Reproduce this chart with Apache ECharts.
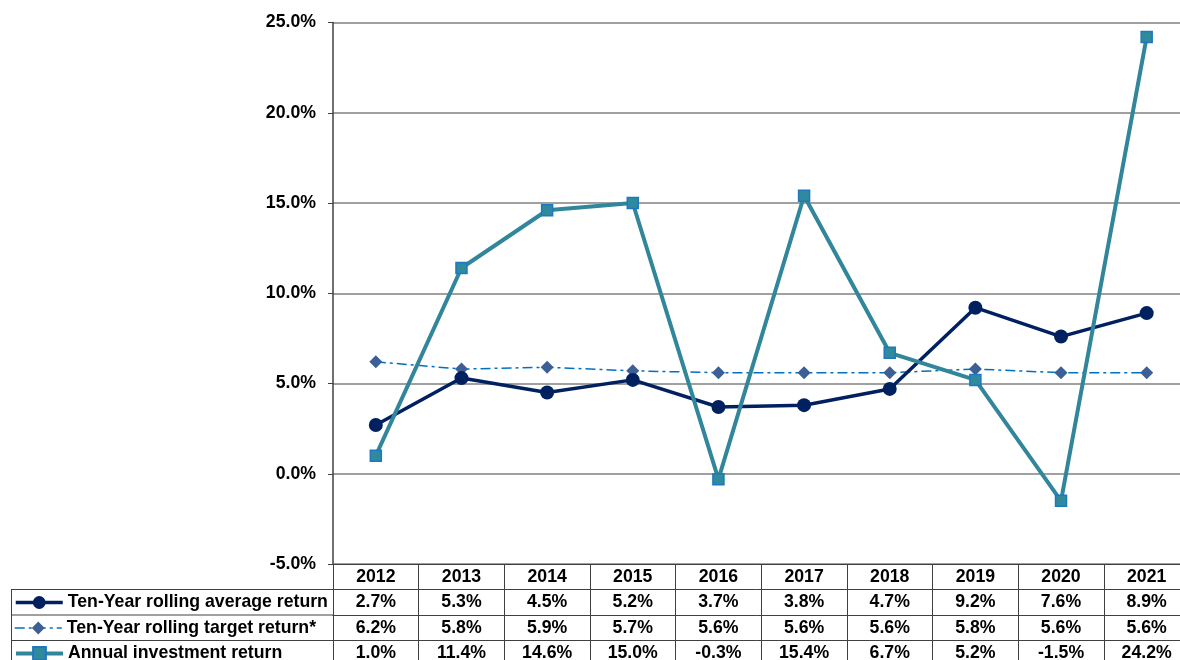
<!DOCTYPE html>
<html>
<head>
<meta charset="utf-8">
<script src="https://cdn.jsdelivr.net/npm/echarts@6/dist/echarts.min.js"></script>
<style>
  html, body { margin: 0; padding: 0; background: #fff; }
  #chart { width: 1180px; height: 660px; }
</style>
</head>
<body>
<div id="chart"></div>
<script>
// data
var years = ['2012', '2013', '2014', '2015', '2016', '2017', '2018', '2019', '2020', '2021']
var rollingAvg = [2.7, 5.3, 4.5, 5.2, 3.7, 3.8, 4.7, 9.2, 7.6, 8.9]
var rollingTarget = [6.2, 5.8, 5.9, 5.7, 5.6, 5.6, 5.6, 5.8, 5.6, 5.6]
var annualReturn = [1.0, 11.4, 14.6, 15.0, -0.3, 15.4, 6.7, 5.2, -1.5, 24.2]
var seriesNames = ['Ten-Year rolling average return', 'Ten-Year rolling target return*', 'Annual investment return']

var font = 'Liberation Sans, Arial, sans-serif'
var fs = 17.7
var plotLeft = 333
var plotTop = 22.5
var plotBottom = 564
var plotWidth = 856.5
var rowH = 25.5
var legendLineWidths = [3.5, 1.5, 4]

function pct(v) {
  return v.toFixed(1) + '%'
}

// one extra x axis per table row, its line is the row's top border
function rowAxis(values, idx) {
  return {
    type: 'category',
    gridIndex: 0,
    position: 'bottom',
    offset: rowH * idx,
    data: values.map(pct),
    axisLine: { show: true, onZero: false, lineStyle: { color: '#404040', width: 1 } },
    axisTick: { show: false },
    axisLabel: { margin: 4, color: '#000', fontFamily: font, fontSize: fs, fontWeight: 'bold', interval: 0 },
    splitLine: { show: false }
  }
}

// one legend per table row so they never wrap
function rowLegend(name, idx) {
  return {
    orient: 'horizontal',
    left: 14,
    top: plotBottom + rowH * idx + 3.5,
    padding: 0,
    itemWidth: 47,
    itemHeight: 16,
    itemGap: 5,
    lineStyle: { width: legendLineWidths[idx - 1] },
    data: [name],
    textStyle: { color: '#000', fontFamily: font, fontSize: fs, fontWeight: 'bold', lineHeight: 19 }
  }
}

var chart = echarts.init(document.getElementById('chart'))
var option = {
  animation: false,
  backgroundColor: '#fff',
  grid: {
    left: plotLeft,
    top: plotTop,
    width: plotWidth,
    height: plotBottom - plotTop,
    containLabel: false,
    outerBoundsMode: 'none'
  },
  legend: seriesNames.map(function(n, i) { return rowLegend(n, i + 1) }),
  xAxis: [
    {
      type: 'category',
      data: years,
      boundaryGap: true,
      axisLine: { show: true, onZero: false, lineStyle: { color: '#404040', width: 1 } },
      axisTick: { show: true, length: 102, lineStyle: { color: '#404040', width: 1 } },
      axisLabel: { margin: 4, color: '#000', fontFamily: font, fontSize: fs, fontWeight: 'bold', interval: 0 },
      splitLine: { show: false }
    },
    rowAxis(rollingAvg, 1),
    rowAxis(rollingTarget, 2),
    rowAxis(annualReturn, 3)
  ],
  yAxis: {
    type: 'value',
    min: -5,
    max: 25,
    interval: 5,
    axisLine: { show: true, lineStyle: { color: '#404040', width: 1.5 } },
    axisTick: { show: true, length: 5, lineStyle: { color: '#404040' } },
    axisLabel: {
      margin: 17,
      color: '#000',
      fontFamily: font,
      fontSize: fs,
      fontWeight: 'bold',
      formatter: function(v) { return pct(v) }
    },
    splitLine: { show: true, lineStyle: { color: '#808080', width: 1.5 } }
  },
  series: [
    {
      name: seriesNames[0],
      type: 'line',
      data: rollingAvg,
      symbol: 'circle',
      symbolSize: 14,
      lineStyle: { color: '#002060', width: 3.5 },
      itemStyle: { color: '#002060' },
      z: 4
    },
    {
      name: seriesNames[1],
      type: 'line',
      data: rollingTarget,
      symbol: 'diamond',
      symbolSize: 13,
      lineStyle: { color: '#0070C0', width: 1.5, type: [10, 4, 3, 4] },
      itemStyle: { color: '#3C5F96' },
      z: 3
    },
    {
      name: seriesNames[2],
      type: 'line',
      data: annualReturn,
      symbol: 'rect',
      symbolSize: 11,
      lineStyle: { color: '#31869B', width: 4 },
      itemStyle: { color: '#2F8A9E', borderColor: '#1E78C0', borderWidth: 1.5 },
      z: 5
    }
  ],
  graphic: [
    // left part of the data table (legend cells)
    { type: 'line', shape: { x1: 11, y1: plotBottom + rowH, x2: plotLeft, y2: plotBottom + rowH }, style: { stroke: '#404040', lineWidth: 1 } },
    { type: 'line', shape: { x1: 11, y1: plotBottom + rowH * 2, x2: plotLeft, y2: plotBottom + rowH * 2 }, style: { stroke: '#404040', lineWidth: 1 } },
    { type: 'line', shape: { x1: 11, y1: plotBottom + rowH * 3, x2: plotLeft, y2: plotBottom + rowH * 3 }, style: { stroke: '#404040', lineWidth: 1 } },
    { type: 'line', shape: { x1: 11.5, y1: plotBottom + rowH, x2: 11.5, y2: 670 }, style: { stroke: '#404040', lineWidth: 1 } }
  ]
}
chart.setOption(option)
</script>
</body>
</html>
